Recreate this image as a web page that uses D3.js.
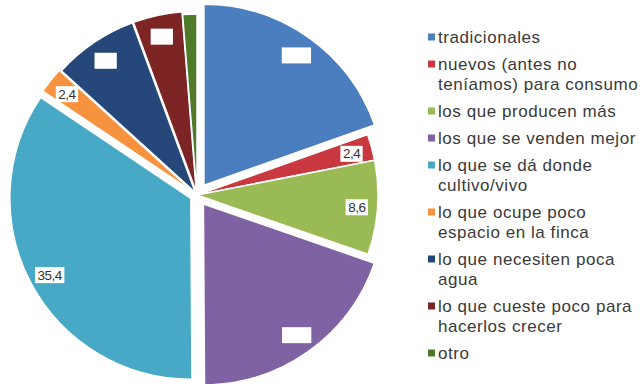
<!DOCTYPE html>
<html>
<head>
<meta charset="utf-8">
<script src="https://cdn.jsdelivr.net/npm/d3@7"></script>
<style>
  html, body { margin: 0; padding: 0; background: #fff; }
  svg { display: block; }
</style>
</head>
<body>
<svg id="chart" width="640" height="384"></svg>
<script>
// Categories (legend text, with its line breaks) and their shares in percent
const categories = [
  "tradicionales",
  "nuevos (antes no teníamos) para consumo",
  "los que producen más",
  "los que se venden mejor",
  "lo que se dá donde cultivo/vivo",
  "lo que ocupe poco espacio en la finca",
  "lo que necesiten poca agua",
  "lo que cueste poco para hacerlos crecer",
  "otro"
];
const legendLines = [
  ["tradicionales"],
  ["nuevos (antes no", "teníamos) para consumo"],
  ["los que producen más"],
  ["los que se venden mejor"],
  ["lo que se dá donde", "cultivo/vivo"],
  ["lo que ocupe poco", "espacio en la finca"],
  ["lo que necesiten poca", "agua"],
  ["lo que cueste poco para", "hacerlos crecer"],
  ["otro"]
];
const values = [20.1, 2.4, 8.6, 20.1, 35.4, 2.4, 7.8, 4.5, 1.3];
// Which value labels print their number (the others show a blank tag); null = no tag
const labelShown = [false, true, true, false, true, true, false, false, null];

const colors = ["#4a7ebf", "#c9383e", "#9aba56", "#7f62a3", "#48a9c6",
                "#f7923f", "#25477a", "#7d2424", "#4e7a2a"];
// How far each slice is pulled out from the centre
const explode = [12, 0, 0, 11, 7, 5, 3, 3, 0];

const svg = d3.select("#chart");
const cx = 197, cy = 195, R = 181;

const data = values.map((v, i) => ({
  name: categories[i], value: v, color: colors[i],
  explode: explode[i], shown: labelShown[i], lines: legendLines[i]
}));

const pie = d3.pie().sort(null).value(d => d.value).startAngle(0).endAngle(2 * Math.PI);
const arc = d3.arc().innerRadius(0).outerRadius(R);
const labelArc = d3.arc().innerRadius(R * 0.885).outerRadius(R * 0.885);

const arcs = pie(data);
const fmt = v => d3.format(".1f")(v).replace(".", ",");

const slices = svg.append("g").attr("transform", `translate(${cx},${cy})`)
  .selectAll("g.slice").data(arcs).join("g")
  .attr("class", "slice")
  .attr("transform", d => {
    const m = (d.startAngle + d.endAngle) / 2;
    const e = d.data.explode;
    return `translate(${e * Math.sin(m)},${-e * Math.cos(m)})`;
  });

slices.append("path")
  .attr("d", arc)
  .attr("fill", d => d.data.color)
  .attr("stroke", "#fff")
  .attr("stroke-width", 1.5)
  .attr("stroke-linejoin", "round");

// Value tags: white boxes with the number
slices.filter(d => d.data.shown !== null).each(function (d) {
  const g = d3.select(this);
  const [x, y] = labelArc.centroid(d);
  const t = g.append("text")
    .attr("x", x).attr("y", y + 1)
    .attr("text-anchor", "middle")
    .attr("dominant-baseline", "central")
    .attr("font-family", "Liberation Sans, Arial, sans-serif")
    .attr("font-size", 13.5)
    .attr("letter-spacing", -0.5)
    .attr("fill", "#333")
    .text(fmt(d.data.value));
  const w = t.node().getComputedTextLength();
  g.insert("rect", "text")
    .attr("x", x - w / 2 - 2.5).attr("y", y - 7)
    .attr("width", w + 5).attr("height", 16)
    .attr("fill", "#fff");
  if (!d.data.shown) t.remove();
});

// Legend
const lineH = 20, itemGap = 27;
const legend = svg.append("g").attr("transform", "translate(428,0)");
let y = 37;
data.forEach(d => {
  const item = legend.append("g");
  item.append("rect")
    .attr("x", 0).attr("y", y - 3.5)
    .attr("width", 7).attr("height", 7)
    .attr("fill", d.color);
  d.lines.forEach((ln, j) => {
    item.append("text")
      .attr("x", 10).attr("y", y + j * lineH)
      .attr("dominant-baseline", "central")
      .attr("font-family", "Liberation Sans, Arial, sans-serif")
      .attr("font-size", 17)
      .attr("letter-spacing", 0.55)
      .attr("fill", "#3a3a3a")
      .text(ln);
  });
  y += (d.lines.length - 1) * lineH + itemGap;
});
</script>
</body>
</html>
